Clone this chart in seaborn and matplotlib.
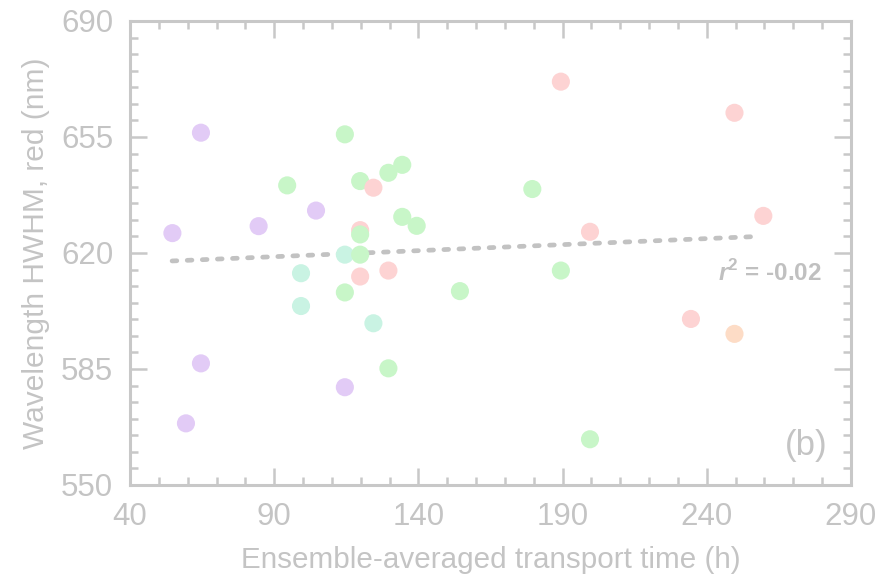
import matplotlib
matplotlib.use("Agg")
import matplotlib.pyplot as plt
import seaborn as sns
import pandas as pd
from matplotlib.ticker import MultipleLocator

# ---- data ----
purple_x = [54.7, 64.6, 84.6, 104.5, 64.6, 59.4, 114.5]
purple_y = [626.0, 656.3, 628.1, 632.8, 586.7, 568.6, 579.5]

# first pink point sits underneath a green one
pink_x = [119.8, 189.4, 124.4, 199.5, 119.8, 129.6, 249.6, 259.6, 234.5]
pink_y = [626.9, 671.7, 639.7, 626.4, 612.9, 614.7, 662.3, 631.2, 600.1]

green_x = [94.5, 114.5, 119.8, 129.6, 134.4, 179.5, 134.4, 139.4, 119.8,
           119.8, 189.4, 114.5, 154.4, 129.6, 199.5]
green_y = [640.4, 655.8, 641.7, 644.2, 646.6, 639.3, 630.9, 628.2, 625.6,
           619.5, 614.7, 608.1, 608.5, 585.2, 563.8]

teal_x = [114.5, 99.3, 99.3, 124.4]
teal_y = [619.5, 613.9, 604.0, 598.8]

orange_x = [249.6]
orange_y = [595.6]

fit_x = [54.6, 258.0]
fit_y = [617.6, 625.0]

r2_text = r"$\mathbfit{r}^{\mathbf{2}}$ = -0.02"
panel_label = "(b)"

xticks = [40, 90, 140, 190, 240, 290]
yticks = [550, 585, 620, 655, 690]

palette = {"purple": "#e2cbf6", "pink": "#fdd3d3", "green": "#c8f6c8",
           "teal": "#c9f3e3", "orange": "#fddcc6"}

def rows_of(g, xs, ys):
    return [{"x": x, "y": y, "group": g} for x, y in zip(xs, ys)]

rows = (rows_of("purple", purple_x, purple_y)
        + rows_of("pink", pink_x[:1], pink_y[:1])
        + rows_of("teal", teal_x, teal_y)
        + rows_of("green", green_x, green_y)
        + rows_of("pink", pink_x[1:], pink_y[1:])
        + rows_of("orange", orange_x, orange_y))
df = pd.DataFrame(rows)
fit_df = pd.DataFrame({"x": fit_x, "y": fit_y})

sns.set_theme(style="white")
plt.rcParams["font.family"] = ["Liberation Sans", "DejaVu Sans"]
plt.rcParams["mathtext.fontset"] = "custom"
plt.rcParams["mathtext.bfit"] = "Liberation Sans:italic:bold"
plt.rcParams["mathtext.bf"] = "Liberation Sans:bold"

grey = "#c8c8c8"
txt = "#c4c4c4"

fig = plt.figure(figsize=(8.87, 5.82), dpi=100)
ax = fig.add_axes([130 / 887, 97 / 582, 721 / 887, 464 / 582])

sns.scatterplot(data=df, x="x", y="y", hue="group", palette=palette,
                s=170, edgecolor="none", linewidth=0,
                legend=False, ax=ax, zorder=3)
sns.lineplot(data=fit_df, x="x", y="y", ax=ax, color="#c2c2c2", lw=3.4,
             dashes=(1.0, 2.2), zorder=2)
for l in ax.lines:
    l.set_dash_capstyle("round")

ax.set_xlim(40, 290)
ax.set_ylim(550, 690)
ax.set_xticks(xticks)
ax.set_yticks(yticks)
ax.xaxis.set_minor_locator(MultipleLocator(10))
ax.yaxis.set_minor_locator(MultipleLocator(5))

for s in ax.spines.values():
    s.set_color(grey)
    s.set_linewidth(2.2)

ax.tick_params(which="both", direction="in", top=True, right=True,
               bottom=True, left=True, color=grey, width=1.8,
               labelcolor=txt, labelsize=22.5)
ax.tick_params(which="major", length=12, pad=12)
ax.tick_params(which="minor", length=6)
ax.tick_params(axis="x", which="both", labeltop=False)
ax.tick_params(axis="y", which="both", labelright=False)

ax.set_xlabel("Ensemble-averaged transport time (h)", fontsize=21.3,
              color=txt, labelpad=10)
ax.set_ylabel("Wavelength HWHM, red (nm)", fontsize=21.5, color=txt,
              labelpad=8)

ax.text(280, 614, r2_text, fontsize=17.5, fontweight="bold", color="#c0c0c0",
        ha="right", va="center")
ax.text(282, 561.8, panel_label, fontsize=25, color="#c4c4c4",
        ha="right", va="center")

fig.savefig("out.png", dpi=100)
